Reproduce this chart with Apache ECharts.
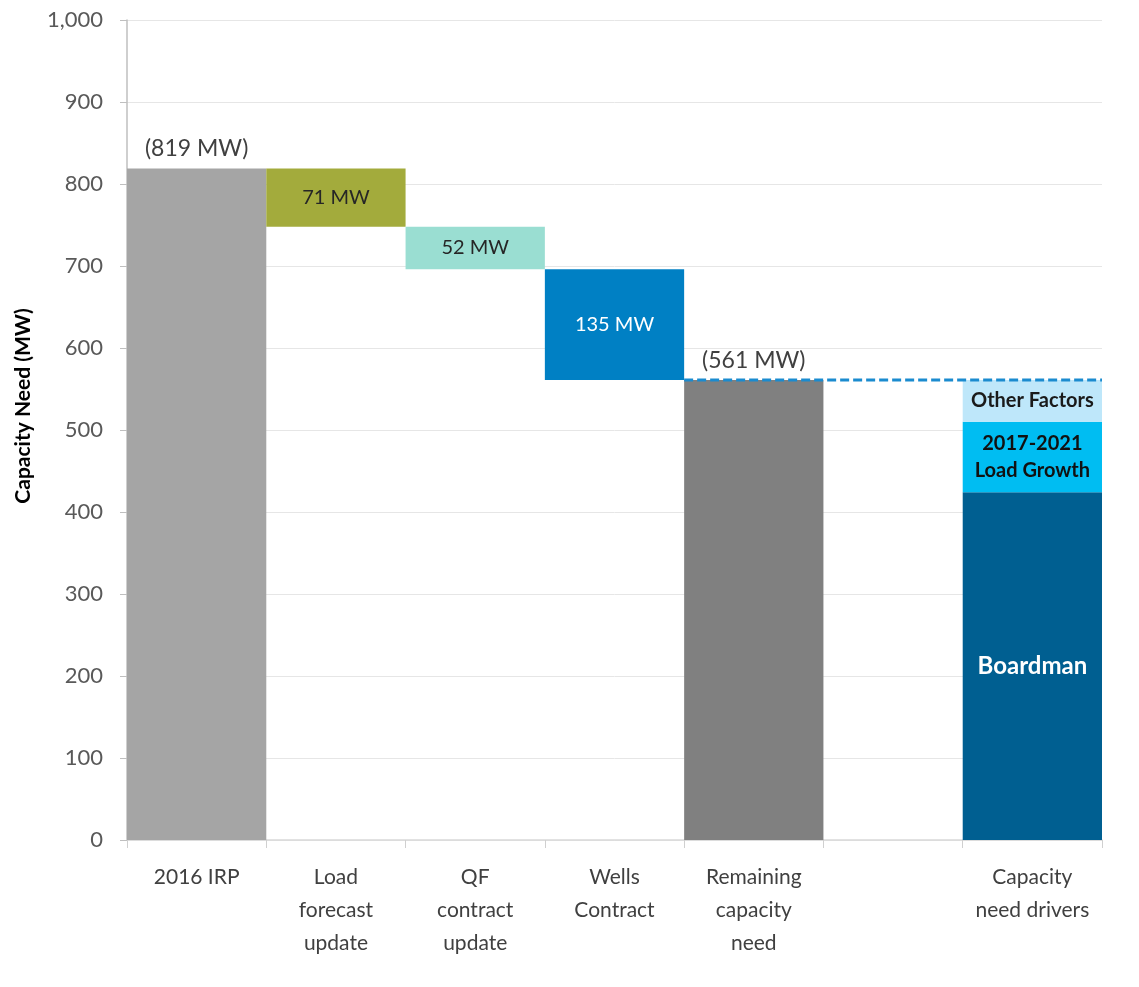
<!DOCTYPE html>
<html>
<head>
<meta charset="utf-8">
<script src="https://cdn.jsdelivr.net/npm/echarts@6/dist/echarts.min.js"></script>
<style>html,body{margin:0;padding:0;background:#fff}#c{width:1139px;height:987px}</style>
</head>
<body>
<div id="c"></div>
<script>
// ---- data ----
const categories = ['2016 IRP', 'Load\nforecast\nupdate', 'QF\ncontract\nupdate', 'Wells\nContract', 'Remaining\ncapacity\nneed', '', 'Capacity\nneed drivers'];
const startValue = 819;               // 2016 IRP
const changeValues = [71, 52, 135];   // reductions
const remainingValue = 561;
const boardman = 424;
const loadGrowth = 86;
const otherFactors = 51;
const yTicks = [0, 100, 200, 300, 400, 500, 600, 700, 800, 900, 1000];

// ---- build waterfall ----
const baseData = [0];
const mainData = [startValue];
let level = startValue;
changeValues.forEach(v => { level -= v; baseData.push(level); mainData.push(v); });
baseData.push(0, '-', 0);
mainData.push(remainingValue, '-', boardman);
const growthData = ['-', '-', '-', '-', '-', '-', loadGrowth];
const otherData = ['-', '-', '-', '-', '-', '-', otherFactors];

const colors = ['#A5A5A5', '#A3AB3C', '#9ADED2', '#0080C4', '#808080', '#fff', '#005F91'];
const font = 'Lato, "Open Sans", sans-serif';

const mainItems = mainData.map((v, i) => {
  const it = { value: v, itemStyle: { color: colors[i] } };
  if (i === 0 || i === 4) {
    it.label = { show: true, position: 'top', distance: 8, formatter: '(' + v + ' MW)', color: '#404040', fontSize: 23, fontFamily: font };
  } else if (i >= 1 && i <= 3) {
    it.label = { show: true, position: 'inside', formatter: v + ' MW', color: i === 3 ? '#fff' : '#262626', fontSize: 20, fontFamily: font };
  } else if (i === 6) {
    it.label = { show: true, position: 'inside', formatter: 'Boardman', color: '#fff', fontSize: 24, fontWeight: 'bold', fontFamily: font };
  }
  return it;
});

const chart = echarts.init(document.getElementById('c'));
chart.setOption({
  animation: false,
  backgroundColor: '#fff',
  grid: { left: 127, right: 37, top: 20, bottom: 147 },
  graphic: [{
    type: 'text', x: 23, y: 406, rotation: Math.PI / 2,
    style: { text: 'Capacity Need (MW)', fill: '#000', font: 'bold 21px ' + font, align: 'center', verticalAlign: 'middle' }
  }],
  xAxis: [{
    type: 'category',
    data: categories,
    axisLine: { lineStyle: { color: '#D9D9D9', width: 1.5 } },
    axisTick: { show: true, length: 8, lineStyle: { color: '#D0D0D0' } },
    axisLabel: { color: '#404040', fontSize: 21, fontFamily: font, lineHeight: 33, margin: 21, interval: 0 }
  }, {
    type: 'value', min: 0, max: categories.length, show: false
  }],
  yAxis: {
    type: 'value', min: 0, max: 1000, interval: 100,
    axisLine: { show: true, lineStyle: { color: '#BFBFBF', width: 1.5 } },
    axisTick: { show: true, length: 7, lineStyle: { color: '#BFBFBF' } },
    axisLabel: { color: '#595959', fontSize: 22, fontFamily: font, margin: 24,
      formatter: v => v.toLocaleString('en-US') },
    splitLine: { lineStyle: { color: '#E6E6E6' } }
  },
  series: [
    { type: 'bar', stack: 'w', barCategoryGap: '0%', data: baseData, itemStyle: { color: 'transparent' }, silent: true },
    { type: 'bar', stack: 'w', data: mainItems },
    { type: 'bar', stack: 'w', data: growthData, itemStyle: { color: '#00BDF2' },
      label: { show: true, position: 'inside', formatter: '2017-2021\nLoad Growth', color: '#111', fontSize: 20, fontWeight: 'bold', lineHeight: 27, fontFamily: font } },
    { type: 'bar', stack: 'w', data: otherData, itemStyle: { color: '#BEE7FA' },
      label: { show: true, position: 'inside', formatter: 'Other Factors', color: '#1a1a1a', fontSize: 20, fontWeight: 'bold', fontFamily: font } },
    { type: 'line', xAxisIndex: 1, data: [[4, remainingValue], [categories.length, remainingValue]],
      symbol: 'none', z: 5, lineStyle: { color: '#1B8BCF', width: 3, type: [9, 4] } }
  ]
});
</script>
</body>
</html>
